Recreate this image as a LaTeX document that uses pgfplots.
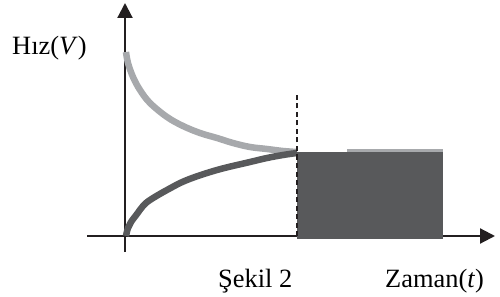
\documentclass[border=0pt]{standalone}
\usepackage{pgfplots}
\pgfplotsset{compat=1.18}
\usepackage{fontspec}
\setmainfont{Liberation Serif}
\usetikzlibrary{arrows.meta}
\definecolor{lightc}{HTML}{A7A9AC}
\definecolor{darkc}{HTML}{58595B}
\definecolor{axc}{HTML}{231F20}
\begin{document}
\begin{tikzpicture}
\begin{axis}[
  scale only axis,
  width=408bp, height=249bp,
  xmin=-38, xmax=370, ymin=-16, ymax=233,
  axis lines=middle,
  axis line style={axc, line width=2.2bp, -{Triangle[length=15bp,width=15bp]}},
  ticks=none,
  clip=false,
]
% light (decreasing) curve
\addplot[lightc, line width=6.5bp, smooth, tension=0.6] coordinates {
 (1,184) (3,173) (8,159) (15,146) (25,133) (42,119) (58,110) (75,103) (92,98) (108,93) (125,89) (142,87) (158,85) (172,84)};
% dark (increasing) curve
\addplot[darkc, line width=6.5bp, smooth, tension=0.6] coordinates {
 (1,0) (3,8) (6,14) (12,22) (18,30) (25,36) (42,46) (62,56) (92,66) (125,74) (142,78) (158,81) (172,83)};
% filled rectangle
\addplot[fill=darkc, draw=none] coordinates {(172,-3) (318,-3) (318,84) (172,84)} -- cycle;
% light line on top of rectangle
\addplot[lightc, line width=2.5bp] coordinates {(222,85.5) (318,85.5)};
% dashed line
\addplot[axc, line width=1.6bp, dash pattern=on 5bp off 3.5bp] coordinates {(172,0) (172,144)};
% labels
\node[anchor=base west, inner sep=0pt, font=\fontsize{26.5}{26.5}\selectfont] at (axis cs:-113,181) {Hız(\textit{V})};
\node[anchor=base west, inner sep=0pt, font=\fontsize{26.5}{26.5}\selectfont] at (axis cs:93,-51) {Şekil 2};
\node[anchor=base west, inner sep=0pt, font=\fontsize{26.5}{26.5}\selectfont] at (axis cs:260,-51) {Zaman(\textit{t})};
% bounding box
\path[use as bounding box] (axis cs:-125,236) rectangle (axis cs:375,-61);
\end{axis}
\end{tikzpicture}
\end{document}
